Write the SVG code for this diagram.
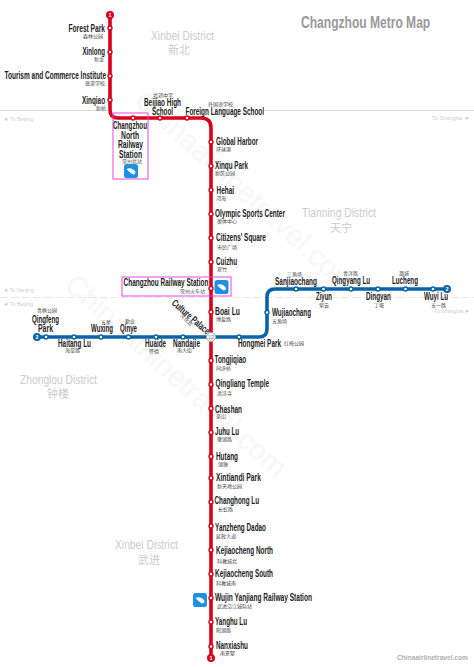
<svg xmlns="http://www.w3.org/2000/svg" width="474" height="667" viewBox="0 0 474 667">
<style>
text{font-family:"Liberation Sans",Arial,sans-serif}
.n{font-size:10px;font-weight:700;fill:#222}
.z{font-family:"Noto Sans CJK SC",sans-serif;font-size:5px;fill:#444}
.d{font-size:13px;fill:#ccc}
.dz{font-family:"Noto Sans CJK SC",sans-serif;font-size:11px;fill:#ccc}
.dir{font-size:6px;fill:#d0d0d0}
.wm{font-size:29px;fill:#f7f7f7}
.r{fill:#fff;stroke:#d8001a;stroke-width:1.4}
.b{fill:#fff;stroke:#0a63a8;stroke-width:1.4}
.box{fill:none;stroke:#e646e0;stroke-width:1}
.ic{fill:#1e8fe6}
.icl{fill:#fff}
</style>
<defs>
<g id="train"><rect width="14" height="14" rx="2.500" class="ic"/><path class="icl" d="M2.500 5C5.500 3.500 9 4 11.500 8C11.500 9.500 10.500 10.500 9 10.500C6.500 9 4.500 7 2.500 5Z"/></g>
</defs>
<g id="backdrop">
<text class="wm" transform="translate(133,103) rotate(42)">Chinaairlinetravel.com</text>
<text class="wm" transform="translate(63,287) rotate(42)">Chinaairlinetravel.com</text>
<path d="M0 110.500H108M263 110.500H474" stroke="#dcdcdc" fill="none"/>
<path d="M0 297.500H474" stroke="#e8e8e8" fill="none" stroke-dasharray="8 3"/>
<text class="dir" x="3" y="121" textLength="30" lengthAdjust="spacingAndGlyphs">◄ To Beijing</text>
<text class="dir" x="432" y="120" textLength="38" lengthAdjust="spacingAndGlyphs">To Shanghai ►</text>
<text class="dir" x="3" y="292" textLength="31" lengthAdjust="spacingAndGlyphs">◄ To Nanjing</text>
<text class="dir" x="3" y="306" textLength="30" lengthAdjust="spacingAndGlyphs">◄ To Beijing</text>
<text class="dir" x="434" y="313" textLength="36" lengthAdjust="spacingAndGlyphs">To Shanghai ►</text>
<text transform="translate(301,28) scale(.71,1)" font-size="17" font-weight="700" fill="#999" textLength="182" lengthAdjust="spacingAndGlyphs">Changzhou Metro Map</text>
<text transform="translate(397,660) scale(.845,1)" font-size="8" font-weight="700" fill="#b0b0b0" textLength="84" lengthAdjust="spacingAndGlyphs">Chinaairlinetravel.com</text>
<text class="d" transform="translate(151,40) scale(.74,1)" textLength="85" lengthAdjust="spacingAndGlyphs">Xinbei District</text>
<text class="dz" x="168" y="54">新北</text>
<text class="d" transform="translate(302,217) scale(.74,1)" textLength="100" lengthAdjust="spacingAndGlyphs">Tianning District</text>
<text class="dz" x="330" y="232">天宁</text>
<text class="d" transform="translate(20,384) scale(.74,1)" textLength="104" lengthAdjust="spacingAndGlyphs">Zhonglou District</text>
<text class="dz" x="47" y="398">钟楼</text>
<text class="d" transform="translate(115,549) scale(.74,1)" textLength="85" lengthAdjust="spacingAndGlyphs">Xinbei District</text>
<text class="dz" x="138" y="564">武进</text>
</g>
<g id="connectors" fill="none" stroke-width="3.600">
<path stroke="#d8001a" d="M110 15V110Q110 118 118 118H201Q211 118 211 128V658"/>
<path stroke="#0a63a8" d="M37 337H259Q267 337 267 329V297Q267 289 275 289H447"/>
</g>
<g id="terminals">
<g id="t1a"><circle cx="110" cy="15" r="4" fill="#d8001a"/><text x="110" y="17" font-size="5.500" font-weight="700" fill="#fff" text-anchor="middle">1</text></g>
<g id="t1b"><circle cx="211" cy="658" r="4" fill="#d8001a"/><text x="211" y="660" font-size="5.500" font-weight="700" fill="#fff" text-anchor="middle">1</text></g>
<g id="t2a"><circle cx="37" cy="337" r="4" fill="#0a63a8"/><text x="37" y="339" font-size="5.500" font-weight="700" fill="#fff" text-anchor="middle">2</text></g>
<g id="t2b"><circle cx="447" cy="289" r="4" fill="#0a63a8"/><text x="447" y="291" font-size="5.500" font-weight="700" fill="#fff" text-anchor="middle">2</text></g>
</g>
<g id="forest-park"><circle class="r" cx="110" cy="28" r="2"/><text class="n" transform="translate(68.500,32) scale(.72,1)" textLength="50.700" lengthAdjust="spacingAndGlyphs">Forest Park</text><text class="z" x="83" y="37.500">森林公园</text></g>
<g id="xinlong"><circle class="r" cx="110" cy="52" r="2"/><text class="n" transform="translate(82.500,55) scale(.72,1)" textLength="31.300" lengthAdjust="spacingAndGlyphs">Xinlong</text><text class="z" x="94" y="61">新龙</text></g>
<g id="tourism"><circle class="r" cx="110" cy="76" r="2"/><text class="n" transform="translate(4.500,79) scale(.72,1)" textLength="141" lengthAdjust="spacingAndGlyphs">Tourism and Commerce Institute</text><text class="z" x="85" y="85">旅游学校</text></g>
<g id="xinqiao"><circle class="r" cx="110" cy="100" r="2"/><text class="n" transform="translate(82,104) scale(.72,1)" textLength="32" lengthAdjust="spacingAndGlyphs">Xinqiao</text><text class="z" x="96" y="110">新桥</text></g>
<g id="changzhou-north"><rect class="box" x="113" y="113" width="35" height="66"/><circle class="r" cx="133" cy="118" r="2"/>
<text class="n" transform="translate(113,129) scale(.72,1)" textLength="47.200" lengthAdjust="spacingAndGlyphs">Changzhou</text><text class="n" transform="translate(121,138.500) scale(.72,1)" textLength="25" lengthAdjust="spacingAndGlyphs">North</text><text class="n" transform="translate(118,148) scale(.72,1)" textLength="34.700" lengthAdjust="spacingAndGlyphs">Railway</text><text class="n" transform="translate(119,157.500) scale(.72,1)" textLength="32" lengthAdjust="spacingAndGlyphs">Station</text><text class="z" x="122" y="162.500">常州北站</text><use href="#train" x="124" y="164"/></g>
<g id="beijiao"><circle class="r" cx="160" cy="118" r="2"/><text class="n" transform="translate(144,106) scale(.72,1)" textLength="51.400" lengthAdjust="spacingAndGlyphs">Beijiao High</text><text class="n" transform="translate(152,115) scale(.72,1)" textLength="29.200" lengthAdjust="spacingAndGlyphs">School</text><text class="z" x="153" y="97">北郊中学</text></g>
<g id="foreign"><circle class="r" cx="187" cy="118" r="2"/><text class="n" transform="translate(185.500,114.500) scale(.72,1)" textLength="109" lengthAdjust="spacingAndGlyphs">Foreign Language School</text><text class="z" x="208" y="106">外国语学校</text></g>
<g id="global-harbor"><circle class="r" cx="211" cy="142" r="2"/><text class="n" transform="translate(216,145) scale(.72,1)" textLength="58.300" lengthAdjust="spacingAndGlyphs">Global Harbor</text><text class="z" x="216" y="151">环球港</text></g>
<g id="xinqu-park"><circle class="r" cx="211" cy="166" r="2"/><text class="n" transform="translate(215,169) scale(.72,1)" textLength="45.800" lengthAdjust="spacingAndGlyphs">Xinqu Park</text><text class="z" x="215" y="175">新区公园</text></g>
<g id="hehai"><circle class="r" cx="211" cy="190" r="2"/><text class="n" transform="translate(216.500,194) scale(.72,1)" textLength="24.300" lengthAdjust="spacingAndGlyphs">Hehai</text><text class="z" x="216" y="200">河海</text></g>
<g id="olympic"><circle class="r" cx="211" cy="214" r="2"/><text class="n" transform="translate(215,216.500) scale(.72,1)" textLength="97.200" lengthAdjust="spacingAndGlyphs">Olympic Sports Center</text><text class="z" x="217" y="222.500">奥体中心</text></g>
<g id="citizens"><circle class="r" cx="211" cy="238" r="2"/><text class="n" transform="translate(216,241) scale(.72,1)" textLength="69.400" lengthAdjust="spacingAndGlyphs">Citizens' Square</text><text class="z" x="217" y="248.500">市民广场</text></g>
<g id="cuizhu"><circle class="r" cx="211" cy="262" r="2"/><text class="n" transform="translate(216,265) scale(.72,1)" textLength="29.200" lengthAdjust="spacingAndGlyphs">Cuizhu</text><text class="z" x="217" y="271">翠竹</text></g>
<g id="changzhou-station"><rect class="box" x="122" y="277" width="109" height="19"/><circle class="r" cx="211" cy="288.500" r="2"/><text class="n" transform="translate(123.500,286) scale(.72,1)" textLength="118" lengthAdjust="spacingAndGlyphs">Changzhou Railway Station</text><text class="z" x="180" y="293">常州火车站</text><use href="#train" x="214.500" y="280"/></g>
<g id="boai-lu"><circle class="r" cx="211" cy="312" r="2"/><text class="n" transform="translate(215,315) scale(.72,1)" textLength="34.700" lengthAdjust="spacingAndGlyphs">Boai Lu</text><text class="z" x="216" y="320.500">博爱路</text></g>
<g id="culture-palace"><circle cx="211" cy="337" r="4.500" fill="#fff" stroke="#aaa" stroke-width="1"/><text x="211" y="338.800" font-size="4.500" fill="#777" text-anchor="middle">1|2</text><text transform="translate(171,304) rotate(41) scale(.72,1)" class="n" textLength="65.300" lengthAdjust="spacingAndGlyphs">Culture Palace</text><text class="z" transform="translate(180,316) rotate(45)">文化宫</text></g>
<g id="qingfeng"><circle class="b" cx="46" cy="337" r="2"/><text class="n" transform="translate(32,323) scale(.72,1)" textLength="37.500" lengthAdjust="spacingAndGlyphs">Qingfeng</text><text class="n" transform="translate(38,331.500) scale(.72,1)" textLength="20.800" lengthAdjust="spacingAndGlyphs">Park</text><text class="z" x="37" y="312">青枫公园</text></g>
<g id="haitang"><circle class="b" cx="74" cy="337" r="2"/><text class="n" transform="translate(58,346.500) scale(.72,1)" textLength="45.800" lengthAdjust="spacingAndGlyphs">Haitang Lu</text><text class="z" x="65" y="352">海棠路</text></g>
<g id="wuxing"><circle class="b" cx="101" cy="337" r="2"/><text class="n" transform="translate(91,332) scale(.72,1)" textLength="30.600" lengthAdjust="spacingAndGlyphs">Wuxing</text><text class="z" x="101" y="323.500">五星</text></g>
<g id="qinye"><circle class="b" cx="128.500" cy="337" r="2"/><text class="n" transform="translate(120,332) scale(.72,1)" textLength="23.600" lengthAdjust="spacingAndGlyphs">Qinye</text><text class="z" x="125" y="323">勤业</text></g>
<g id="huaide"><circle class="b" cx="156" cy="337" r="2"/><text class="n" transform="translate(145,347) scale(.72,1)" textLength="29.200" lengthAdjust="spacingAndGlyphs">Huaide</text><text class="z" x="149" y="353">怀德</text></g>
<g id="nandajie"><circle class="b" cx="183" cy="337" r="2"/><text class="n" transform="translate(173,346.500) scale(.72,1)" textLength="37.500" lengthAdjust="spacingAndGlyphs">Nandajie</text><text class="z" x="177" y="352">南大街</text></g>
<g id="hongmei"><circle class="b" cx="239" cy="337" r="2"/><text class="n" transform="translate(238,347) scale(.72,1)" textLength="59.700" lengthAdjust="spacingAndGlyphs">Hongmei Park</text><text class="z" x="284" y="345">红梅公园</text></g>
<g id="wujiaochang"><circle class="b" cx="267" cy="312.500" r="2"/><text class="n" transform="translate(272,316) scale(.72,1)" textLength="54.200" lengthAdjust="spacingAndGlyphs">Wujiaochang</text><text class="z" x="272" y="323">五角场</text></g>
<g id="sanjiaochang"><circle class="b" cx="296" cy="289" r="2"/><text class="n" transform="translate(275,285) scale(.72,1)" textLength="58.300" lengthAdjust="spacingAndGlyphs">Sanjiaochang</text><text class="z" x="287" y="276">三角场</text></g>
<g id="ziyun"><circle class="b" cx="323.500" cy="289" r="2"/><text class="n" transform="translate(316,300) scale(.72,1)" textLength="22.200" lengthAdjust="spacingAndGlyphs">Ziyun</text><text class="z" x="319" y="307">紫云</text></g>
<g id="qingyang"><circle class="b" cx="351" cy="289" r="2"/><text class="n" transform="translate(332,284) scale(.72,1)" textLength="52.800" lengthAdjust="spacingAndGlyphs">Qingyang Lu</text><text class="z" x="343" y="275">青洋路</text></g>
<g id="dingyan"><circle class="b" cx="378" cy="289" r="2"/><text class="n" transform="translate(366,300) scale(.72,1)" textLength="34.700" lengthAdjust="spacingAndGlyphs">Dingyan</text><text class="z" x="374" y="307">丁堰</text></g>
<g id="lucheng"><circle class="b" cx="405.500" cy="289" r="2"/><text class="n" transform="translate(392,284) scale(.72,1)" textLength="36.100" lengthAdjust="spacingAndGlyphs">Lucheng</text><text class="z" x="399" y="275">潞城</text></g>
<g id="wuyi-lu"><circle class="b" cx="433" cy="289" r="2"/><text class="n" transform="translate(424,300) scale(.72,1)" textLength="33.300" lengthAdjust="spacingAndGlyphs">Wuyi Lu</text><text class="z" x="431" y="307">五一路</text></g>
<g id="tongjiqiao"><circle class="r" cx="211" cy="360.500" r="2"/><text class="n" transform="translate(214.500,362.500) scale(.72,1)" textLength="43.800" lengthAdjust="spacingAndGlyphs">Tongjiqiao</text><text class="z" x="216" y="369.500">同济桥</text></g>
<g id="qingliang"><circle class="r" cx="211" cy="384.500" r="2"/><text class="n" transform="translate(215.500,387) scale(.72,1)" textLength="74.300" lengthAdjust="spacingAndGlyphs">Qingliang Temple</text><text class="z" x="217" y="395">清凉寺</text></g>
<g id="chashan"><circle class="r" cx="211" cy="408.500" r="2"/><text class="n" transform="translate(215,412.500) scale(.72,1)" textLength="37.500" lengthAdjust="spacingAndGlyphs">Chashan</text><text class="z" x="216" y="418">茶山</text></g>
<g id="juhu-lu"><circle class="r" cx="211" cy="432.500" r="2"/><text class="n" transform="translate(215,435) scale(.72,1)" textLength="33.300" lengthAdjust="spacingAndGlyphs">Juhu Lu</text><text class="z" x="217" y="441">聚湖路</text></g>
<g id="hutang"><circle class="r" cx="211" cy="456.500" r="2"/><text class="n" transform="translate(216,460) scale(.72,1)" textLength="30.600" lengthAdjust="spacingAndGlyphs">Hutang</text><text class="z" x="218" y="466">湖塘</text></g>
<g id="xintiandi"><circle class="r" cx="211" cy="478" r="2"/><text class="n" transform="translate(216,481) scale(.72,1)" textLength="62.500" lengthAdjust="spacingAndGlyphs">Xintiandi Park</text><text class="z" x="217" y="488">新天地公园</text></g>
<g id="changhong"><circle class="r" cx="211" cy="502" r="2"/><text class="n" transform="translate(214.500,504) scale(.72,1)" textLength="61.800" lengthAdjust="spacingAndGlyphs">Changhong Lu</text><text class="z" x="218" y="511">长虹路</text></g>
<g id="yanzheng"><circle class="r" cx="211" cy="526" r="2"/><text class="n" transform="translate(215,530.500) scale(.72,1)" textLength="70.800" lengthAdjust="spacingAndGlyphs">Yanzheng Dadao</text><text class="z" x="216" y="538">延政大道</text></g>
<g id="kejiaocheng-north"><circle class="r" cx="211" cy="550" r="2"/><text class="n" transform="translate(216,553.500) scale(.72,1)" textLength="79.200" lengthAdjust="spacingAndGlyphs">Kejiaocheng North</text><text class="z" x="217" y="563">科教城北</text></g>
<g id="kejiaocheng-south"><circle class="r" cx="211" cy="574" r="2"/><text class="n" transform="translate(215,577) scale(.72,1)" textLength="80.600" lengthAdjust="spacingAndGlyphs">Kejiaocheng South</text><text class="z" x="216" y="585">科教城南</text></g>
<g id="wujin"><circle class="r" cx="211" cy="598" r="2"/><text class="n" transform="translate(215,601) scale(.72,1)" textLength="134.700" lengthAdjust="spacingAndGlyphs">Wujin Yanjiang Railway Station</text><text class="z" x="217" y="608">武进沿江城际站</text><use href="#train" x="193" y="593"/></g>
<g id="yanghu-lu"><circle class="r" cx="211" cy="622" r="2"/><text class="n" transform="translate(215,625) scale(.72,1)" textLength="44.400" lengthAdjust="spacingAndGlyphs">Yanghu Lu</text><text class="z" x="216" y="632">阳湖路</text></g>
<g id="nanxiashu"><circle class="r" cx="211" cy="646.500" r="2"/><text class="n" transform="translate(216,649) scale(.72,1)" textLength="44.400" lengthAdjust="spacingAndGlyphs">Nanxiashu</text><text class="z" x="220" y="655">南夏墅</text></g>
</svg>
